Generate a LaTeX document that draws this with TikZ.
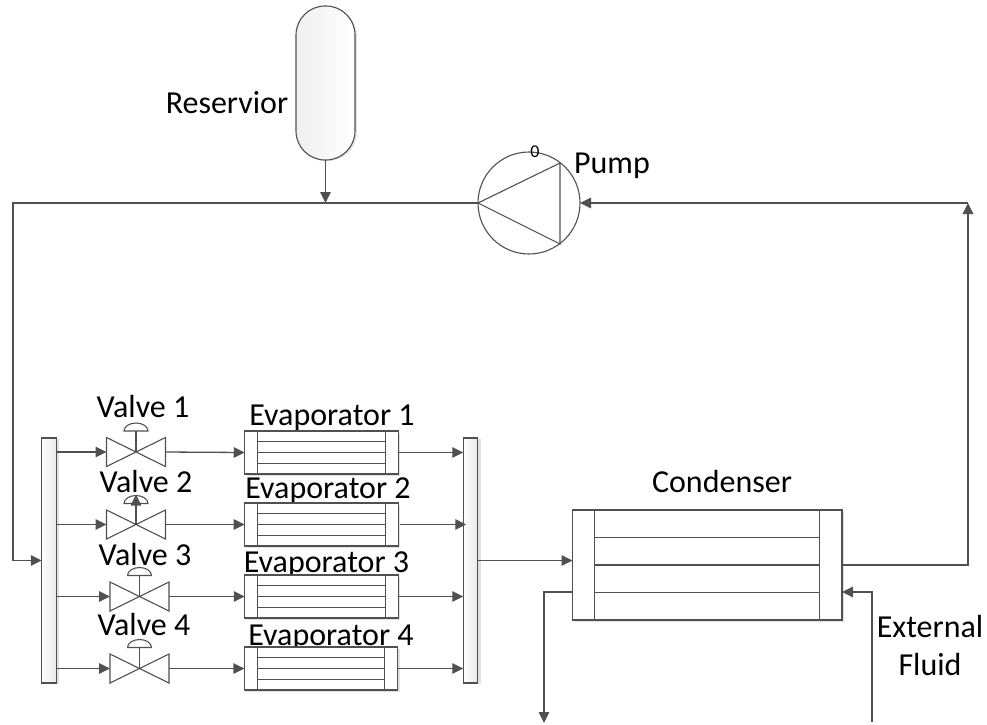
\documentclass[tikz,border=0pt]{standalone}
\usepackage{fontspec}
\setmainfont{Carlito}
\usetikzlibrary{arrows.meta,shadows,calc}
\definecolor{ln}{HTML}{505050}
\tikzset{
  x=1pt,y=-1pt,
  lbl/.style={font=\fontsize{32}{34}\selectfont,text=black,inner sep=0pt,anchor=base},
  pipe/.style={draw=ln,line width=1.3pt},
  flow/.style={pipe,-{Triangle[length=11pt,width=10.5pt,color=ln]}},
  sym/.style={draw=ln,line width=1.1pt,fill=white},
  manifold/.style={draw=ln,line width=1.1pt,left color=white,right color=gray!18,inner sep=0pt,outer sep=0pt,minimum width=14.5pt,minimum height=245pt,drop shadow={shadow xshift=3pt,shadow yshift=-1pt,opacity=.12,fill=black}},
  hx/.style={draw=ln,line width=1.2pt,fill=white,inner sep=0pt,outer sep=0pt,minimum width=153.5pt,minimum height=43pt,drop shadow={shadow xshift=2pt,shadow yshift=-2pt,opacity=.12,fill=black}},
}
\newcommand{\tubes}[2]{% node, inset
  \draw[sym] ($(#1.north west)+(#2,0)$) -- ($(#1.south west)+(#2,0)$);
  \draw[sym] ($(#1.north east)+(-#2,0)$) -- ($(#1.south east)+(-#2,0)$);
  \foreach \f in {0.25,0.5,0.75}{
    \draw[sym] ($(#1.north west)!\f!(#1.south west)+(#2,0)$) -- ($(#1.north east)!\f!(#1.south east)+(-#2,0)$);
  }
}
\newcommand{\valvesym}[2]{% name, position
  \coordinate (#1) at #2;
  \coordinate (#1in) at ($(#1)+(-29.5,0)$);
  \coordinate (#1out) at ($(#1)+(29.5,0)$);
  \draw[sym] ($(#1)+(-29.5,-14.5)$) -- ($(#1)+(29.5,14.5)$) -- ($(#1)+(29.5,-14.5)$) -- ($(#1)+(-29.5,14.5)$) -- cycle;
  \draw[sym] ($(#1)+(-12,-21)$) arc[start angle=180,end angle=0,x radius=12pt,y radius=8pt] -- cycle;
  \draw[sym] ($(#1)+(0,-21)$) -- (#1);
}
\begin{document}
\begin{tikzpicture}
\useasboundingbox (0,0) rectangle (987,724);

% labels (behind the symbols, which hide their descenders)
\node[lbl] (tres) at (227,113) {Reservior};
\node[lbl] (tpump) at (612,173.5) {Pump};
\node[lbl] (tv1) at (143,417) {Valve 1};
\node[lbl] (tv2) at (146,492) {Valve 2};
\node[lbl] (tv3) at (145,565.5) {Valve 3};
\node[lbl] (tv4) at (144,635) {Valve 4};
\node[lbl] (te1) at (332,425) {Evaporator 1};
\node[lbl] (te2) at (328,498) {Evaporator 2};
\node[lbl] (te3) at (326.5,572) {Evaporator 3};
\node[lbl] (te4) at (331,645) {Evaporator 4};
\node[lbl] (tc) at (722,492) {Condenser};
\node[lbl] (tf1) at (930,637) {External};
\node[lbl] (tf2) at (930,675) {Fluid};

% manifolds
\node[manifold] (lm) at (49,560.5) {};
\node[manifold] (rm) at (470.5,560.5) {};

% evaporators
\node[hx] (e1) at (321.5,452.5) {}; \tubes{e1}{13}
\node[hx] (e2) at (321.4,524.5) {}; \tubes{e2}{13}
\node[hx] (e3) at (321.5,596.5) {}; \tubes{e3}{13}
\node[hx] (e4) at (321.1,668.5) {}; \tubes{e4}{13}

% condenser
\node[hx,minimum width=269.5pt,minimum height=110pt] (cond) at (707.3,565) {};
\tubes{cond}{22.3}

% valves
\valvesym{v1}{(136,452)}
\valvesym{v2}{(136,524.5)}
\valvesym{v3}{(139.5,596.5)}
\valvesym{v4}{(139.5,668.5)}
\draw[flow] (v2) -- ($(v2)+(0,-30)$);

% reservoir
\node[draw=ln,line width=1.1pt,left color=gray!12,right color=white,rounded corners=29pt,minimum width=59pt,minimum height=154pt,inner sep=0pt,outer sep=0pt,drop shadow={shadow xshift=2pt,shadow yshift=-1pt,opacity=.1,fill=black}] (res) at (325.5,83) {};

% pump
\node[draw=ln,line width=1.1pt,fill=white,circle,minimum size=102pt,inner sep=0pt,outer sep=0pt] (pump) at (529,203) {};
\draw[sym] (pump.west) -- (560,163) -- (560,244) -- cycle;
\node[inner sep=0pt,font=\fontsize{18}{18}\selectfont,text=black] (zero) at (535,152) {0};

% coordinates for junctions and free ends
\coordinate (jres) at (res.south |- pump.west);
\coordinate (lcorner) at (13,203);
\coordinate (rcorner) at (968,203);
\coordinate (condoutr) at (cond.east |- 0,565);
\coordinate (condinr) at (cond.east |- 0,592);
\coordinate (condoutl) at (cond.west |- 0,592);
\coordinate (condinl) at (cond.west |- 0,560.5);
\coordinate (coldout) at (544,723);
\coordinate (coldin) at (872,722);

% connectors
\draw[flow] (res.south) -- (jres);
\draw[flow] (pump.west) -- (lcorner) -- (13,560.5) -- (lm.west |- 0,560.5);
\draw[flow] (condoutr) -- (968,565) -- (rcorner);
\draw[flow] (rcorner) -- (pump.east);
\draw[flow] (rm.east |- condinl) -- (condinl);
\draw[flow] (condoutl) -- (544,592) -- (coldout);
\draw[flow] (coldin) -- (872,592) -- (condinr);

\foreach \v/\e in {v1/e1,v2/e2,v3/e3,v4/e4}{
  \draw[flow] (lm.east |- \v) -- (\v in);
  \draw[flow] (\v out) -- (\e.west);
}
\draw[flow] (e1.east) -- (rm.west |- e1.east);
\draw[flow] ($(e2.east)+(2,0)$) -- ($(rm.west |- e2.east)+(3,0)$);
\draw[flow] (e3.east) -- (rm.west |- e3.east);
\draw[flow] (e4.east) -- (rm.west |- e4.east);
\end{tikzpicture}
\end{document}
